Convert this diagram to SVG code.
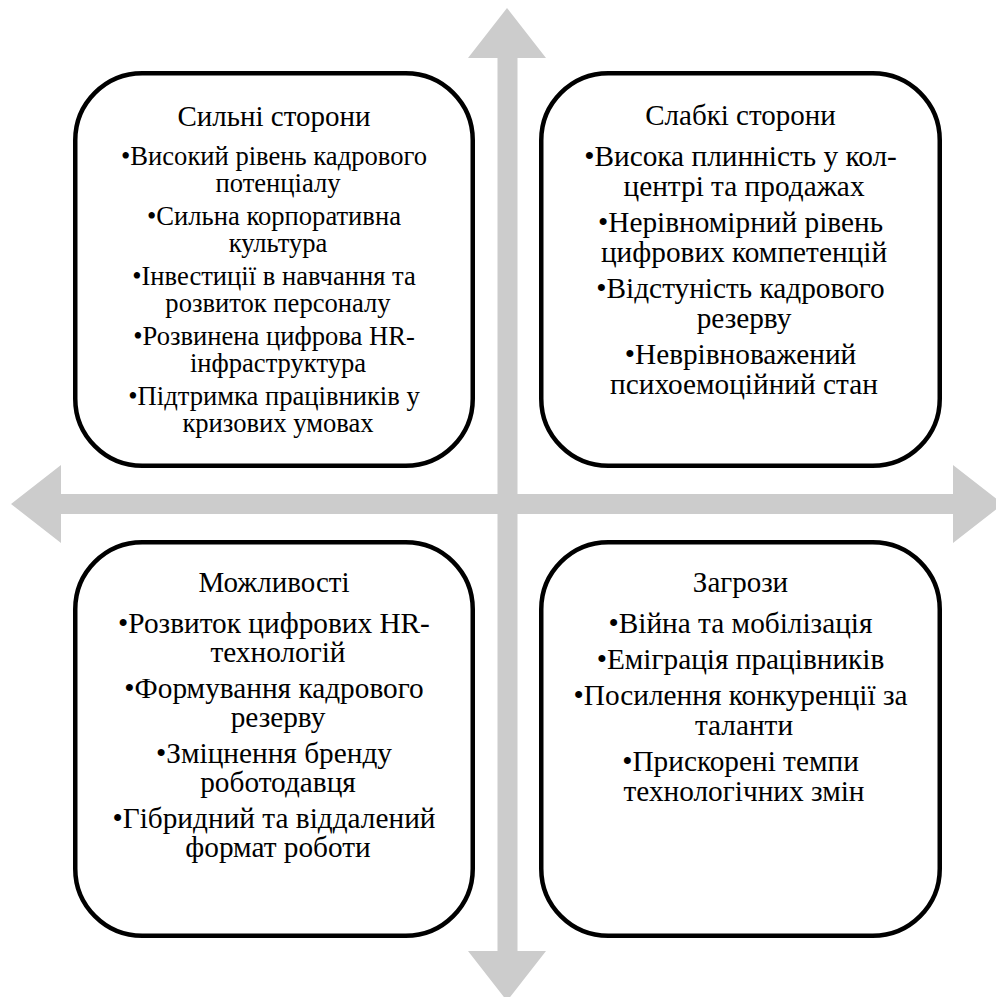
<svg xmlns="http://www.w3.org/2000/svg" width="996" height="997" viewBox="0 0 996 997">
<style>
.arrow{fill:#cccccc;stroke:none}
.box{fill:#ffffff;stroke:#000000;stroke-width:4.5}
.txt text{fill:#000000;text-anchor:middle;font-family:"Liberation Serif","Times New Roman",serif}
.t{font-size:29px}
.s{font-size:26.6px}
.b{font-size:29.3px}
</style>
<rect width="996" height="997" fill="#ffffff"/>
<g id="connectors">
<polygon class="arrow" points="507,8 546,58 517.5,58 517.5,951 546,951 507,1001 468,951 497.5,951 497.5,58 468,58"/>
<polygon class="arrow" points="11,504 61,465 61,494 953,494 953,465 1003,504 953,543 953,514 61,514 61,543"/>
</g>
<g id="strengths" class="txt">
<rect class="box" x="75.25" y="73.25" width="397.5" height="392.5" rx="67" ry="67"/>
<text class="t" x="274" y="126">Сильні сторони</text>
<text class="s" x="274" y="165">•Високий рівень кадрового</text>
<text class="s" x="278" y="191.7">потенціалу</text>
<text class="s" x="274" y="225">•Сильна корпоративна</text>
<text class="s" x="278" y="251.7">культура</text>
<text class="s" x="274" y="285">•Інвестиції в навчання та</text>
<text class="s" x="278" y="311.7">розвиток персоналу</text>
<text class="s" x="274" y="345">•Розвинена цифрова HR-</text>
<text class="s" x="278" y="371.7">інфраструктура</text>
<text class="s" x="274" y="405">•Підтримка працівників у</text>
<text class="s" x="278" y="431.7">кризових умовах</text>
</g>
<g id="weaknesses" class="txt">
<rect class="box" x="541.25" y="73.25" width="398.5" height="392.5" rx="67" ry="67"/>
<text class="t" x="740.5" y="125">Слабкі сторони</text>
<text class="b" x="740.5" y="166">•Висока плинність у кол-</text>
<text class="b" x="744" y="195.5">центрі та продажах</text>
<text class="b" x="740.5" y="232">•Нерівномірний рівень</text>
<text class="b" x="744" y="261.5">цифрових компетенцій</text>
<text class="b" x="740.5" y="298">•Відстуність кадрового</text>
<text class="b" x="744" y="327.5">резерву</text>
<text class="b" x="740.5" y="364">•Неврівноважений</text>
<text class="b" x="744" y="393.5">психоемоційний стан</text>
</g>
<g id="opportunities" class="txt">
<rect class="box" x="75.25" y="542.25" width="397.5" height="393.5" rx="67" ry="67"/>
<text class="t" x="274" y="592">Можливості</text>
<text class="b" x="274" y="633">•Розвиток цифрових HR-</text>
<text class="b" x="278" y="662">технологій</text>
<text class="b" x="274" y="698">•Формування кадрового</text>
<text class="b" x="278" y="727">резерву</text>
<text class="b" x="274" y="763">•Зміцнення бренду</text>
<text class="b" x="278" y="792">роботодавця</text>
<text class="b" x="274" y="828">•Гібридний та віддалений</text>
<text class="b" x="278" y="857">формат роботи</text>
</g>
<g id="threats" class="txt">
<rect class="box" x="541.25" y="542.25" width="398.5" height="393.5" rx="67" ry="67"/>
<text class="t" x="740.5" y="592">Загрози</text>
<text class="b" x="740.5" y="633">•Війна та мобілізація</text>
<text class="b" x="740.5" y="669">•Еміграція працівників</text>
<text class="b" x="740.5" y="705">•Посилення конкуренції за</text>
<text class="b" x="744" y="734.5">таланти</text>
<text class="b" x="740.5" y="771">•Прискорені темпи</text>
<text class="b" x="744" y="800.5">технологічних змін</text>
</g>
</svg>
